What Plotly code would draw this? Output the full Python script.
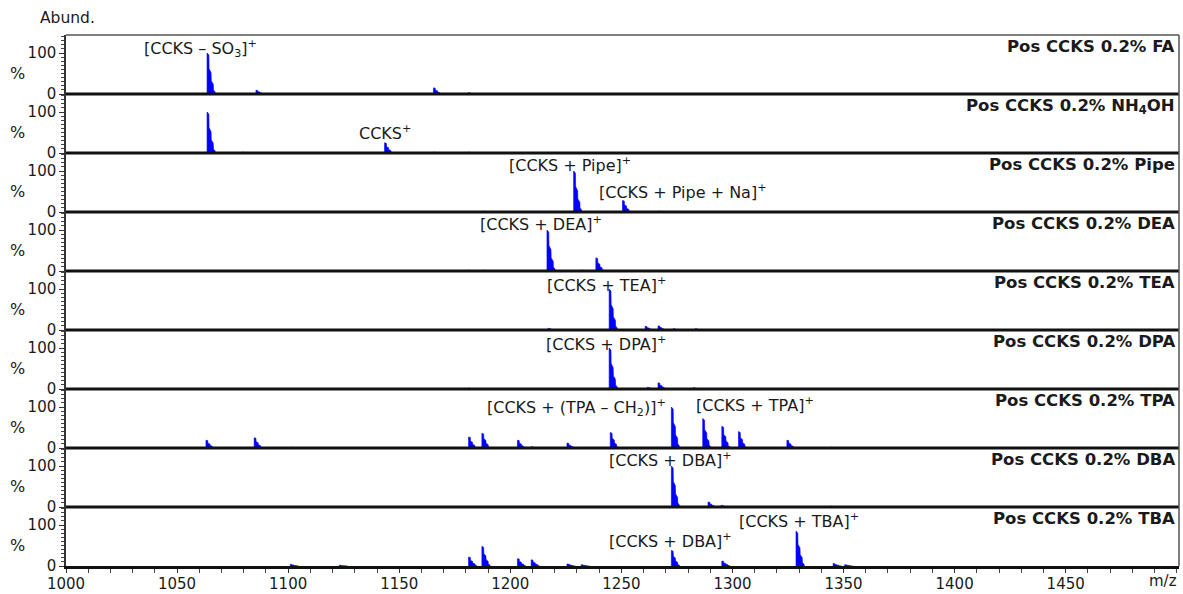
import plotly.graph_objects as go
from plotly.subplots import make_subplots

# ---------------- data ----------------
MZ_RANGE = [1000, 1501]
X_TICKS = [1000, 1050, 1100, 1150, 1200, 1250, 1300, 1350, 1400, 1450]
X_TICK_LABELS = [str(v) for v in X_TICKS]
X_AXIS_LABEL = "m/z"
Y_AXIS_LABEL = "%"
ABUND_LABEL = "Abund."

PANEL_TITLES = [
    "Pos CCKS 0.2% FA",
    "Pos CCKS 0.2% NH<sub>4</sub>OH",
    "Pos CCKS 0.2% Pipe",
    "Pos CCKS 0.2% DEA",
    "Pos CCKS 0.2% TEA",
    "Pos CCKS 0.2% DPA",
    "Pos CCKS 0.2% TPA",
    "Pos CCKS 0.2% DBA",
    "Pos CCKS 0.2% TBA",
]

FA_MZ = [1063.5, 1085.5, 1165.4, 1181.0]
FA_INT = [100, 9, 15, 3]

NH4OH_MZ = [1063.5, 1079.3, 1143.4, 1165.4, 1181.0]
NH4OH_INT = [100, 2, 25, 2, 2]

PIPE_MZ = [1187.8, 1228.5, 1250.5, 1266.5]
PIPE_INT = [2, 100, 28, 2]

DEA_MZ = [1181.0, 1187.8, 1216.5, 1231.9, 1238.5]
DEA_INT = [2, 2, 100, 2, 32]

TEA_MZ = [1217.0, 1244.5, 1260.7, 1266.5, 1273.3, 1283.2]
TEA_INT = [4, 100, 9, 10, 3, 3]

DPA_MZ = [1181.0, 1244.5, 1261.6, 1266.5, 1282.3]
DPA_INT = [2, 100, 4, 15, 3]

TPA_MZ = [1063.0, 1084.7, 1101.3, 1181.2, 1187.2, 1203.2, 1209.4, 1225.5,
          1245.0, 1266.0, 1272.5, 1286.6, 1295.2, 1302.7, 1324.5, 1344.0]
TPA_INT = [19, 25, 2, 27, 36, 19, 3, 12, 38, 2, 100, 72, 53, 40, 19, 2]

DBA_MZ = [1272.5, 1289.0, 1294.9, 1344.0]
DBA_INT = [100, 12, 4, 2]

TBA_MZ = [1101.0, 1123.0, 1181.2, 1187.2, 1203.2, 1209.4, 1225.5, 1231.9,
          1272.5, 1295.2, 1328.6, 1345.3, 1350.5]
TBA_INT = [4, 2, 22, 48, 18, 15, 5, 3, 38, 12, 85, 6, 3]

SPECTRA = [
    (FA_MZ, FA_INT), (NH4OH_MZ, NH4OH_INT), (PIPE_MZ, PIPE_INT),
    (DEA_MZ, DEA_INT), (TEA_MZ, TEA_INT), (DPA_MZ, DPA_INT),
    (TPA_MZ, TPA_INT), (DBA_MZ, DBA_INT), (TBA_MZ, TBA_INT),
]

# peak labels: (panel index, text, m/z anchor, abundance anchor)
PEAK_LABELS = [
    (0, "[CCKS – SO<sub>3</sub>]<sup>+</sup>", 1060.5, 111),
    (1, "CCKS<sup>+</sup>", 1143.7, 51),
    (2, "[CCKS + Pipe]<sup>+</sup>", 1226.9, 115),
    (2, "[CCKS + Pipe + Na]<sup>+</sup>", 1277.6, 50),
    (3, "[CCKS + DEA]<sup>+</sup>", 1213.9, 115),
    (4, "[CCKS + TEA]<sup>+</sup>", 1243.2, 111),
    (5, "[CCKS + DPA]<sup>+</sup>", 1243.2, 111),
    (6, "[CCKS + (TPA – CH<sub>2</sub>)]<sup>+</sup>", 1229.6, 100),
    (6, "[CCKS + TPA]<sup>+</sup>", 1310.2, 107),
    (7, "[CCKS + DBA]<sup>+</sup>", 1272.2, 115),
    (8, "[CCKS + DBA]<sup>+</sup>", 1272.2, 63),
    (8, "[CCKS + TBA]<sup>+</sup>", 1329.8, 112),
]

# ---------------- style ----------------
# stepped isotope-envelope outline used to draw each peak (m/z offsets, relative heights)
PEAK_DX = [0, 0, 0.8, 0.9, 1.8, 1.9, 2.8, 2.9, 3.6, 3.8]
PEAK_REL = [0, 1.0, 0.95, 0.62, 0.52, 0.32, 0.24, 0.1, 0.05, 0]
Y_MAX = 144
FONT = "DejaVu Sans"
TXT = "#1a1a1a"
BLUE = "#0000ff"
N = len(SPECTRA)

fig = make_subplots(rows=N, cols=1, shared_xaxes=True, vertical_spacing=0)

for i, (mzs, ints) in enumerate(SPECTRA):
    xs, ys = [], []
    for m, h in zip(mzs, ints):
        for dx, r in zip(PEAK_DX, PEAK_REL):
            xs.append(m + dx)
            ys.append(h * r)
        xs.append(None)
        ys.append(None)
    fig.add_trace(go.Scatter(x=xs, y=ys, mode="lines", fill="toself",
                             fillcolor=BLUE, line=dict(color=BLUE, width=0.6),
                             hoverinfo="skip", showlegend=False),
                  row=i + 1, col=1)

for r in range(1, N + 1):
    fig.update_yaxes(row=r, col=1, range=[0, Y_MAX], tickmode="linear", tick0=0, dtick=100,
                     ticks="outside", ticklen=5, tickwidth=1.2, tickcolor="#333",
                     minor=dict(tick0=0, dtick=10, ticks="outside", ticklen=3,
                                tickwidth=1, tickcolor="#444", showgrid=False),
                     showline=True, linecolor="#333", linewidth=1.5,
                     showgrid=False, zeroline=False, automargin=False,
                     tickfont=dict(family=FONT, size=15, color=TXT))
    last = (r == N)
    fig.update_xaxes(row=r, col=1, range=MZ_RANGE, showline=last, linecolor="#111",
                     linewidth=3, showgrid=False, zeroline=False, automargin=False,
                     tickmode="array", tickvals=X_TICKS, ticktext=X_TICK_LABELS,
                     showticklabels=last, ticks="outside" if last else "",
                     ticklen=4, tickwidth=1.2, tickcolor="#333",
                     ticklabelstandoff=-2 if last else 0,
                     minor=dict(tick0=1000, dtick=10, ticks="outside" if last else "",
                                ticklen=4, tickwidth=1, tickcolor="#444", showgrid=False),
                     tickfont=dict(family=FONT, size=15, color=TXT))

annotations = []
shapes = []
for r in range(1, N + 1):
    yname = "y" if r == 1 else f"y{r}"
    annotations.append(dict(text=f"<b>{PANEL_TITLES[r-1]}</b>", xref="paper", x=1, xanchor="right",
                            xshift=-2, yref=f"{yname} domain", y=1, yanchor="top", yshift=0,
                            showarrow=False, font=dict(family=FONT, size=16.5, color=TXT)))
    annotations.append(dict(text=Y_AXIS_LABEL, xref="paper", x=-0.044, xanchor="center",
                            yref=yname, y=50, yanchor="middle", showarrow=False,
                            font=dict(family=FONT, size=16, color=TXT)))
    if r < N:
        # thick separator / baseline under each upper panel
        shapes.append(dict(type="line", xref="paper", yref=f"{yname} domain",
                           x0=0, x1=1, y0=0, y1=0, layer="above",
                           line=dict(color="#111", width=3)))

for p, text, mz, ab in PEAK_LABELS:
    r = p + 1
    annotations.append(dict(text=text, xref="x" if r == 1 else f"x{r}", x=mz, xanchor="center",
                            yref="y" if r == 1 else f"y{r}", y=ab, yanchor="middle",
                            showarrow=False, font=dict(family=FONT, size=16, color=TXT)))

annotations.append(dict(text=ABUND_LABEL, xref="paper", x=-0.025, xanchor="left",
                        yref="paper", y=1, yanchor="bottom", yshift=6, showarrow=False,
                        font=dict(family=FONT, size=15.5, color=TXT)))
annotations.append(dict(text=X_AXIS_LABEL, xref=f"x{N}", x=MZ_RANGE[1], xanchor="right",
                        yref="paper", y=0, yanchor="top", yshift=-4, showarrow=False,
                        font=dict(family=FONT, size=15, color=TXT)))

shapes += [
    dict(type="line", xref="paper", yref="paper", x0=0, x1=1, y0=1, y1=1,
         line=dict(color="#555", width=1.5)),
    dict(type="line", xref="paper", yref="paper", x0=1, x1=1, y0=0, y1=1,
         line=dict(color="#555", width=1.5)),
]

fig.update_layout(width=1183, height=594, margin=dict(l=66, r=4, t=35, b=28),
                  paper_bgcolor="white", plot_bgcolor="white",
                  annotations=annotations, shapes=shapes, showlegend=False)

fig.write_html("out.html")
